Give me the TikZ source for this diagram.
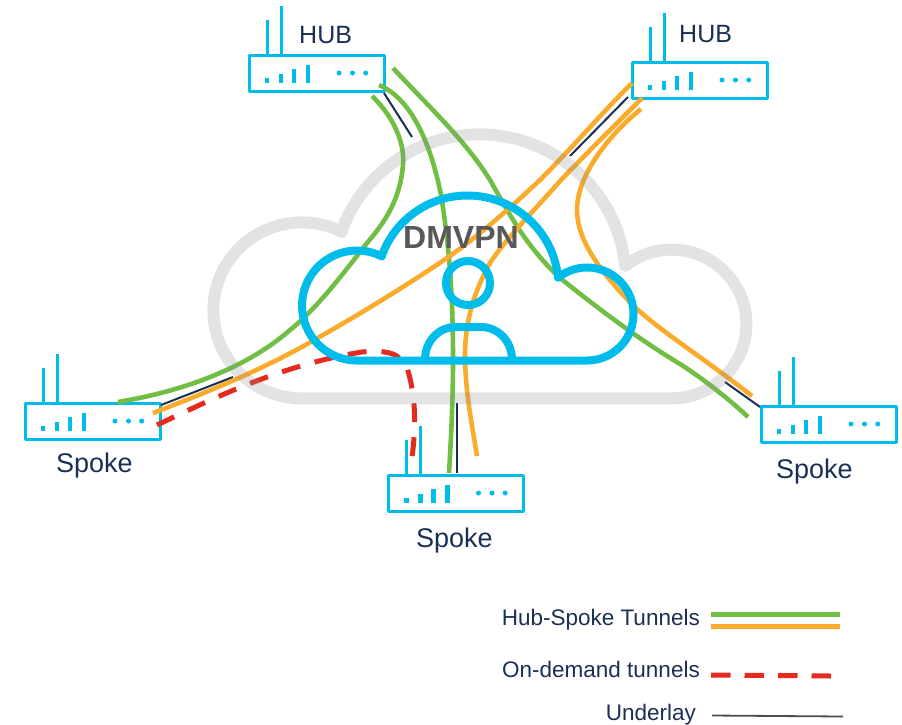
\documentclass[tikz,border=0pt]{standalone}
\usepackage{fontspec}
\setmainfont{Liberation Sans}
\definecolor{ciscoblue}{HTML}{00BCEB}
\definecolor{navytext}{HTML}{1B2F55}
\definecolor{tgreen}{HTML}{70BF44}
\definecolor{torange}{HTML}{FBAB2C}
\definecolor{tred}{HTML}{E52B20}
\definecolor{cloudgrey}{HTML}{8F8F8F}
\definecolor{dmtext}{HTML}{58595B}
\tikzset{
  routerbox/.style={draw=ciscoblue,line width=3pt,minimum width=135pt,minimum height=36pt,inner sep=0pt,outer sep=0pt,line join=round},
  antenna/.style={draw=ciscoblue,line width=3pt},
  signalbar/.style={fill=ciscoblue},
  greentun/.style={draw=tgreen,line width=4.6pt},
  orangetun/.style={draw=torange,line width=4.6pt},
  redtun/.style={draw=tred,line width=5pt,dash pattern=on 19pt off 15pt},
  underlay/.style={draw=navytext,line width=2pt},
  biglabel/.style={text=navytext,anchor=base west,inner sep=0pt,font=\fontsize{25}{30}\selectfont},
  spokelabel/.style={biglabel,font=\fontsize{27}{32}\selectfont},
  legendlabel/.style={text=navytext,anchor=base east,inner sep=0pt,font=\fontsize{22.5}{27}\selectfont},
}
\newcommand{\routerat}[3]{%
  \node[routerbox] (#1) at (#2+67.5,-#3-18) {};
  \begin{scope}[shift={(#2,-#3)}]
    \draw[antenna] (18,0) -- (18,35);
    \draw[antenna] (32,0) -- (32,49);
    \fill[signalbar] (15.8,-28) rectangle (20.2,-23);
    \fill[signalbar] (29.8,-28) rectangle (34.2,-19);
    \fill[signalbar] (42.8,-28) rectangle (47.2,-14);
    \fill[signalbar] (56.8,-28) rectangle (61.2,-10);
    \fill[ciscoblue] (90,-18) circle (2.5pt) (103.5,-18) circle (2.5pt) (116.7,-18) circle (2.5pt);
  \end{scope}}
\newcommand{\cloudshape}{(382,-256.5) arc (63:270:55) -- (587,-360.5) arc (-90:128.5:46.5) arc (5.6:160.6:91) -- cycle}
\begin{document}
\begin{tikzpicture}[x=1pt,y=1pt]
\useasboundingbox (0,0) rectangle (902,-724);
% routers
\routerat{hubA}{249}{55}
\routerat{hubB}{632}{62}
\routerat{spokeL}{25}{403}
\routerat{spokeM}{388.5}{475}
\routerat{spokeR}{761}{406}
% tunnel end points
\coordinate (g1a) at (372,-96);  \coordinate (g1b) at (118,-402);
\coordinate (g2a) at (379,-85);  \coordinate (g2b) at (449,-473);
\coordinate (g3a) at (393,-68);  \coordinate (g3b) at (748,-417);
\coordinate (o1a) at (632,-83);  \coordinate (o1b) at (153,-413);
\coordinate (o2a) at (642,-98); \coordinate (o2b) at (477,-456);
\coordinate (o3a) at (641,-109); \coordinate (o3b) at (752,-396);
\coordinate (r1a) at (157,-425); \coordinate (r1b) at (410,-470);
\coordinate (u1a) at (384,-93);  \coordinate (u1b) at (412,-137);
\coordinate (u2a) at (628,-97);  \coordinate (u2b) at (570,-156);
\coordinate (u3a) at (161,-405); \coordinate (u3b) at (233,-377);
\coordinate (u4a) at (457,-403); \coordinate (u4b) at (457,-473);
\coordinate (u5a) at (725,-382); \coordinate (u5b) at (760,-407);
% underlay
\draw[underlay] (u1a) -- (u1b);
\draw[underlay] (u2a) -- (u2b);
\draw[underlay] (u3a) -- (u3b);
\draw[underlay] (u4a) -- (u4b);
\draw[underlay] (u5a) -- (u5b);
% green tunnels
\draw[greentun] (g1a) .. controls (395,-118) and (405,-145) .. (403,-165) .. controls (400,-200) and (385,-222) .. (367,-243) .. controls (340,-278) and (315,-310) .. (290,-330) .. controls (250,-365) and (190,-390) .. (g1b);
\draw[greentun] (g2a) .. controls (410,-98) and (430,-140) .. (441,-195) .. controls (450,-250) and (453,-300) .. (453,-360) .. controls (453,-400) and (451,-440) .. (g2b);
\draw[greentun] (g3a) .. controls (430,-108) and (465,-140) .. (490,-180) .. controls (510,-215) and (525,-245) .. (560,-278) .. controls (600,-310) and (640,-340) .. (680,-364) .. controls (705,-380) and (730,-400) .. (g3b);
% orange tunnels
\draw[orangetun] (o1a) .. controls (600,-115) and (570,-150) .. (540,-180) .. controls (510,-208) and (480,-235) .. (447,-258) .. controls (400,-290) and (350,-320) .. (300,-348) .. controls (250,-375) and (200,-395) .. (o1b);
\draw[orangetun] (o2a) .. controls (612,-128) and (585,-155) .. (561,-180) .. controls (530,-215) and (505,-240) .. (490,-263) .. controls (475,-290) and (465,-320) .. (465,-355) .. controls (465,-390) and (472,-425) .. (o2b);
\draw[orangetun] (o3a) .. controls (618,-127) and (577,-170) .. (577,-210) .. controls (577,-240) and (600,-270) .. (625,-297) .. controls (650,-325) and (700,-355) .. (o3b);
% on-demand tunnel
\draw[redtun] (r1a) .. controls (210,-400) and (280,-365) .. (362,-352) .. controls (385,-350) and (400,-352) .. (407,-368) .. controls (416,-395) and (417,-430) .. (r1b);
% grey cloud
\begin{scope}[shift={(-272.3pt,179.2pt)},x=1.608pt,y=1.6pt]
  \draw[cloudgrey,opacity=.25,line width=12pt,line join=round] (382,-257) arc (63:270:55) -- (587,-361) arc (-90:128.5:46.5) arc (5.6:160.6:91) -- cycle;
\end{scope}
% blue cloud
\draw[ciscoblue,line width=8pt,line join=round,line cap=round] \cloudshape;
\draw[ciscoblue,line width=8pt] (468,-283) circle (22);
\draw[ciscoblue,line width=8pt] (425,-360) .. controls (425,-340) and (440,-327) .. (455,-327) -- (481,-327) .. controls (497,-327) and (512,-340) .. (512,-360);
% labels
\node[anchor=base west,inner sep=0pt,text=dmtext,font=\fontsize{32}{38}\selectfont\bfseries] (dm) at (403,-248) {DMVPN};
\node[biglabel] (l1) at (299,-43) {HUB};
\node[biglabel] (l2) at (679,-42) {HUB};
\node[spokelabel] (l3) at (56,-472) {Spoke};
\node[spokelabel] (l4) at (416,-547) {Spoke};
\node[spokelabel] (l5) at (776,-478) {Spoke};
% legend
\node[legendlabel] (t1) at (700,-625) {Hub-Spoke Tunnels};
\node[legendlabel] (t2) at (700,-677) {On-demand tunnels};
\node[legendlabel] (t3) at (696,-720) {Underlay};
\coordinate (k1a) at (711,-614); \coordinate (k1b) at (840,-614);
\coordinate (k2a) at (711,-626); \coordinate (k2b) at (840,-626);
\coordinate (k3a) at (711,-675); \coordinate (k3b) at (831,-676);
\coordinate (k4a) at (712,-715.5); \coordinate (k4b) at (843,-716.5);
\draw[greentun,line width=5pt] (k1a) -- (k1b);
\draw[orangetun,line width=5pt] (k2a) -- (k2b);
\draw[redtun,dash pattern=on 19.5pt off 14pt] (k3a) -- (k3b);
\draw[draw=black!70,line width=1.8pt] (k4a) -- (k4b);
\end{tikzpicture}
\end{document}
